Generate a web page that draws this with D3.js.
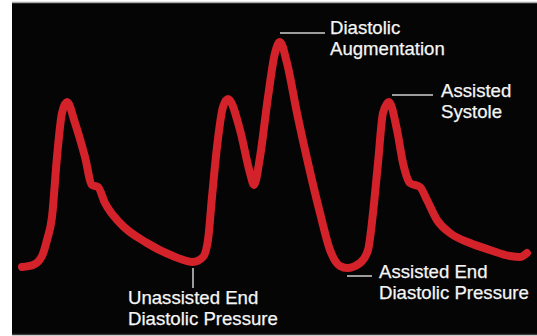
<!DOCTYPE html>
<html>
<head>
<meta charset="utf-8">
<script src="https://cdn.jsdelivr.net/npm/d3@7"></script>
<style>
  body { margin: 0; background: #fff; }
  svg { display: block; }
</style>
</head>
<body>
<div class="wave-chart"></div>
<script>
const width = 537;
const height = 336;

/* DATA */
// time in ms, pressure in mmHg
const timeMs = [0, 55, 100, 125, 150, 175, 200, 225, 265, 315, 350, 380, 415, 490, 625, 755, 855,
    905, 930, 950, 975, 1005, 1030, 1090, 1140, 1160, 1190, 1230, 1265, 1290, 1325, 1375, 1430,
    1490, 1540, 1590, 1625, 1690, 1730, 1755, 1780, 1805, 1835, 1875, 1905, 1940, 1990, 2025,
    2075, 2140, 2240, 2340, 2440, 2490, 2525];
const pressure = [40.4, 41.2, 44.8, 51.2, 60.4, 84.4, 102, 106.4, 98, 84.4, 73.2, 72.4, 66, 58, 50, 44.8, 42.4,
    44.4, 51.2, 68.4, 88.4, 104.4, 107.6, 95.2, 78, 73.2, 84.4, 108.4, 126, 130.4, 122, 102, 82,
    62, 47.2, 40.8, 40, 42, 47.2, 62, 82, 102, 106.4, 95.2, 82, 74, 72.4, 67.2,
    59.2, 54, 50, 47.2, 44.8, 44.4, 46];

// annotations: which point they point at, and their text lines
const labelPoint = [29, 42, 36, 16];
const labelLines = [
    ["Diastolic", "Augmentation"],
    ["Assisted", "Systole"],
    ["Assisted End", "Diastolic Pressure"],
    ["Unassisted End", "Diastolic Pressure"]
];

const data = timeMs.map((t, i) => ({ t: t, p: pressure[i] }));

/* SCALES */
const xScale = d3.scaleLinear()
    .domain([0, 2525])
    .range([22, 527]);

const yScale = d3.scaleLinear()
    .domain([40, 130])
    .range([268, 43]);

const svg = d3.select(".wave-chart")
    .append("svg")
    .attr("width", width)
    .attr("height", height);

// black monitor panel
svg.append("rect")
    .attr("x", 12)
    .attr("y", 2)
    .attr("width", width - 12)
    .attr("height", 332)
    .attr("fill", "#050505");

svg.append("line")
    .attr("x1", 12).attr("x2", width)
    .attr("y1", 2.5).attr("y2", 2.5)
    .attr("stroke", "#a8a8a8")
    .attr("stroke-width", 1.5);

svg.append("line")
    .attr("x1", 12).attr("x2", width)
    .attr("y1", 334.5).attr("y2", 334.5)
    .attr("stroke", "#3a3a3a")
    .attr("stroke-width", 1.5);

/* WAVEFORM */
const lineFunction = d3.line()
    .x(d => xScale(d.t))
    .y(d => yScale(d.p))
    .curve(d3.curveMonotoneX);

svg.append("path")
    .datum(data)
    .attr("fill", "none")
    .attr("stroke", "#d3222a")
    .attr("stroke-width", 8)
    .attr("stroke-linejoin", "round")
    .attr("stroke-linecap", "round")
    .attr("d", lineFunction);

/* ANNOTATIONS */
const lineColor = "#cfcfcf";
const textColor = "#f5f5f5";

function addText(x, y, lines) {
    const txt = svg.append("text")
        .attr("x", x)
        .attr("y", y)
        .attr("fill", textColor)
        .attr("stroke", textColor)
        .attr("stroke-width", 0.25)
        .attr("font-family", "'Liberation Sans', Arial, sans-serif")
        .attr("font-size", 18.6);
    lines.forEach((s, i) => {
        txt.append("tspan")
            .attr("x", x)
            .attr("dy", i === 0 ? 0 : 21)
            .text(s);
    });
}

function leader(x1, y1, x2, y2) {
    svg.append("line")
        .attr("x1", x1).attr("y1", y1)
        .attr("x2", x2).attr("y2", y2)
        .attr("stroke", lineColor)
        .attr("stroke-width", 1.5);
}

// diastolic augmentation (top peak)
let p = data[labelPoint[0]];
let px = xScale(p.t), py = yScale(p.p);
leader(px, py - 9, px + 45, py - 9);
addText(px + 50, py - 8, labelLines[0]);

// assisted systole
p = data[labelPoint[1]];
px = xScale(p.t); py = yScale(p.p);
leader(px + 3, py - 7, px + 44, py - 7);
addText(px + 52, py - 5, labelLines[1]);

// assisted end diastolic pressure
p = data[labelPoint[2]];
px = xScale(p.t); py = yScale(p.p);
leader(px, py + 8, px + 25, py + 8);
addText(px + 32, py + 10, labelLines[2]);

// unassisted end diastolic pressure
p = data[labelPoint[3]];
px = xScale(p.t); py = yScale(p.p);
leader(px, py + 6, px, py + 26);
addText(px - 65, py + 42, labelLines[3]);
</script>
</body>
</html>
